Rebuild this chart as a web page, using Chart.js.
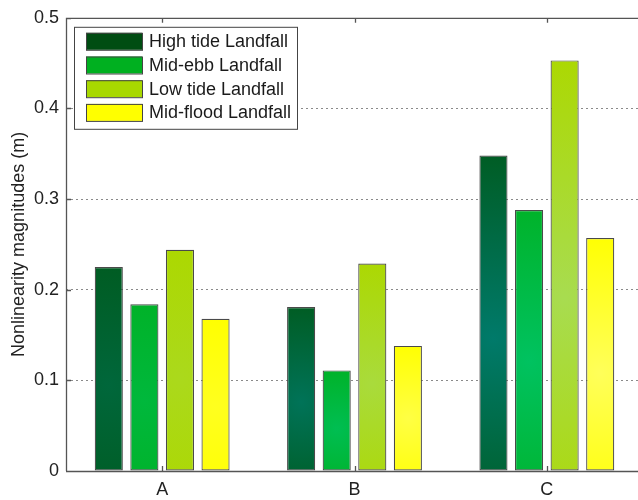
<!DOCTYPE html>
<html>
<head>
<meta charset="utf-8">
<script src="https://cdn.jsdelivr.net/npm/chart.js@4.4.1/dist/chart.umd.min.js"></script>
<style>
  html, body { margin: 0; padding: 0; background: #fff; overflow: hidden; }
  #wrap { width: 646px; height: 500px; }
</style>
</head>
<body>
<div id="wrap"><canvas id="miGrafica" width="646" height="500"></canvas></div>
<script>
// datos
const categories = ['A', 'B', 'C'];
const seriesLabels = ['High tide Landfall', 'Mid-ebb Landfall', 'Low tide Landfall', 'Mid-flood Landfall'];
const highTide = [0.225, 0.181, 0.348];
const midEbb   = [0.184, 0.111, 0.288];
const lowTide  = [0.244, 0.229, 0.453];
const midFlood = [0.168, 0.138, 0.257];
const yTicks = [0, 0.1, 0.2, 0.3, 0.4, 0.5];

// colores: borde del degradado, centro claro, muestra de leyenda
const edgeColors  = [[0, 92, 34], [0, 178, 40], [172, 216, 0], [255, 255, 0]];
const lightColors = [[0, 122, 106], [0, 194, 96], [168, 220, 80], [255, 255, 90]];
const legendColors = ['#004d12', '#00b020', '#a8d800', '#ffff00'];
const brillo = [0.35, 0.75, 1]; // intensidad del brillo por grupo

const catPct = 0.74, barPct = 0.79;
const fuente = '"Liberation Sans", Arial, sans-serif';

function mezcla(a, b, t) {
  return 'rgb(' + a.map((v, k) => Math.round(v + (b[k] - v) * t)).join(',') + ')';
}

function gradiente(ctx) {
  const chart = ctx.chart;
  const i = ctx.datasetIndex;
  const edge = mezcla(edgeColors[i], edgeColors[i], 0);
  if (!chart.chartArea || !chart.scales.x || ctx.raw === undefined) return edge;
  const xs = chart.scales.x, ys = chart.scales.y;
  const catW = xs.width / categories.length;
  const slot = catW * catPct / 4;
  const cx = xs.getPixelForValue(ctx.dataIndex) + (i - 1.5) * slot;
  const top = ys.getPixelForValue(ctx.raw);
  const bottom = ys.getPixelForValue(0);
  const h = bottom - top;
  const cy = top + h * 0.58;
  const g = chart.ctx.createRadialGradient(cx, cy, 0, cx, cy, Math.max(h * 0.6, 30));
  g.addColorStop(0, mezcla(edgeColors[i], lightColors[i], brillo[ctx.dataIndex]));
  g.addColorStop(1, edge);
  return g;
}

// leyenda dentro del area y marco con ticks hacia dentro
const extras = {
  id: 'extras',
  afterDraw(chart) {
    const c = chart.ctx, a = chart.chartArea;
    const xs = chart.scales.x, ys = chart.scales.y;
    c.save();
    c.strokeStyle = '#555';
    c.lineWidth = 1.3;
    c.beginPath();
    c.moveTo(a.left + 0.5, a.top + 0.5); c.lineTo(a.right, a.top + 0.5);
    c.moveTo(a.left + 0.5, a.top); c.lineTo(a.left + 0.5, a.bottom);
    c.moveTo(a.left, a.bottom + 0.5); c.lineTo(a.right, a.bottom + 0.5);
    yTicks.forEach(v => {
      const y = Math.round(ys.getPixelForValue(v)) + 0.5;
      c.moveTo(a.left, y); c.lineTo(a.left + 5, y);
      c.moveTo(a.right, y); c.lineTo(a.right - 5, y);
    });
    categories.forEach((k, j) => {
      const x = Math.round(xs.getPixelForValue(j)) + 0.5;
      c.moveTo(x, a.bottom); c.lineTo(x, a.bottom - 5);
      c.moveTo(x, a.top); c.lineTo(x, a.top + 5);
    });
    c.stroke();

    const lx = a.left + 8, ly = a.top + 9, lw = 223, lh = 102;
    c.lineWidth = 1;
    c.fillStyle = '#fff';
    c.fillRect(lx, ly, lw, lh);
    c.strokeStyle = '#444';
    c.strokeRect(lx + 0.5, ly + 0.5, lw, lh);
    c.font = '18px ' + fuente;
    c.textBaseline = 'middle';
    seriesLabels.forEach((lab, k) => {
      const ry = ly + 6 + k * 23.7;
      c.fillStyle = legendColors[k];
      c.fillRect(lx + 12, ry, 56, 17);
      c.strokeStyle = '#444';
      c.strokeRect(lx + 12.5, ry + 0.5, 56, 17);
      c.fillStyle = '#1a1a1a';
      c.fillText(lab, lx + 75, ry + 9.5);
    });
    c.restore();
  }
};

const series = [highTide, midEbb, lowTide, midFlood];

new Chart(document.getElementById('miGrafica').getContext('2d'), {
  type: 'bar',
  data: {
    labels: categories,
    datasets: series.map((d, i) => ({
      label: seriesLabels[i],
      data: d,
      backgroundColor: gradiente,
      borderColor: '#4a4a4a',
      borderWidth: 1.2,
      borderSkipped: false,
      categoryPercentage: catPct,
      barPercentage: barPct
    }))
  },
  options: {
    responsive: false,
    animation: false,
    layout: { padding: { top: 16, right: 3, left: 0, bottom: 0 } },
    plugins: { legend: { display: false }, tooltip: { enabled: false } },
    scales: {
      x: {
        grid: { display: false, drawTicks: false },
        border: { display: false },
        ticks: { color: '#222', font: { size: 18, family: fuente }, padding: 8 },
        afterFit(s) { s.height = 29; }
      },
      y: {
        min: 0, max: 0.5,
        afterBuildTicks(s) { s.ticks = yTicks.map(v => ({ value: v })); },
        grid: {
          drawTicks: false,
          color: c => (c.tick && (c.tick.value === 0 || c.tick.value === 0.5)) ? 'rgba(0,0,0,0)' : '#8a8a8a',
          lineWidth: 1
        },
        border: { display: false, dash: [2, 3] },
        ticks: {
          color: '#222',
          font: { size: 18, family: fuente },
          padding: 7,
          callback: v => String(v)
        },
        title: {
          display: true,
          text: 'Nonlinearity magnitudes (m)',
          color: '#222',
          font: { size: 18, family: fuente },
          padding: { top: 8, bottom: 0 }
        },
        afterFit(s) { s.width = 66; }
      }
    }
  },
  plugins: [extras]
});
</script>
</body>
</html>
